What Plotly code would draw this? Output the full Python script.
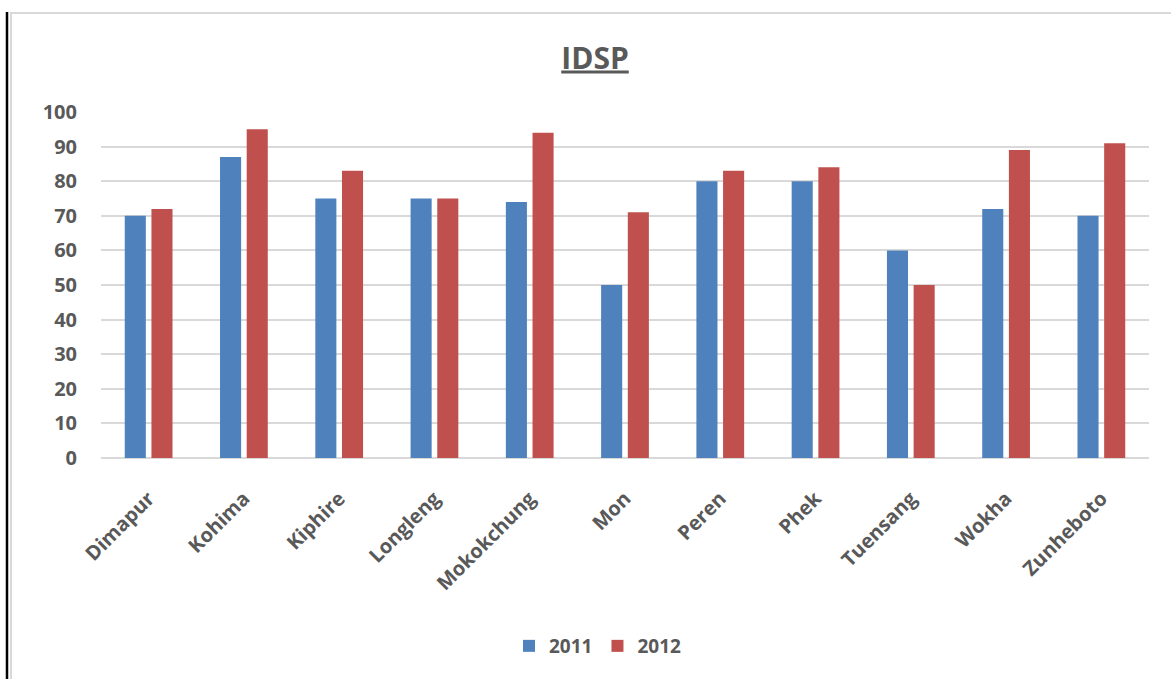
import plotly.graph_objects as go

categories = ["Dimapur", "Kohima", "Kiphire", "Longleng", "Mokokchung", "Mon",
              "Peren", "Phek", "Tuensang", "Wokha", "Zunheboto"]
values_2011 = [70, 87, 75, 75, 74, 50, 80, 80, 60, 72, 70]
values_2012 = [72, 95, 83, 75, 94, 71, 83, 84, 50, 89, 91]
y_ticks = [0, 10, 20, 30, 40, 50, 60, 70, 80, 90, 100]

W, H = 1171, 679
L, R, T, B = 101, 22, 112, 221
pw, ph = W - L - R, H - T - B

def px(x):
    return (x - L) / pw

def py(y):
    return 1 - (y - T) / ph

FONT = "Open Sans"
GRAY = "#595959"

fig = go.Figure()
fig.add_trace(go.Bar(name="2011", x=categories, y=values_2011,
                     marker=dict(color="#4F81BD", line=dict(width=0))))
fig.add_trace(go.Bar(name="2012", x=categories, y=values_2012,
                     marker=dict(color="#C0504D", line=dict(width=0))))

fig.update_layout(
    width=W, height=H,
    margin=dict(l=L, r=R, t=T, b=B, autoexpand=False),
    paper_bgcolor="white", plot_bgcolor="white",
    barmode="group", bargap=0.44, bargroupgap=0.21,
    title=dict(text="<b><u>IDSP</u></b>", xref="container", x=595 / W,
               xanchor="center", yref="container", y=1 - 58 / H,
               yanchor="middle",
               font=dict(family=FONT, size=30, color=GRAY)),
    font=dict(family=FONT, color=GRAY, size=19),
    showlegend=True,
    legend=dict(orientation="h", x=px(509), xanchor="left", y=py(646),
                yanchor="middle", font=dict(family=FONT, size=19, color=GRAY),
                traceorder="normal", itemwidth=30),
    xaxis=dict(showgrid=False, showline=False, ticks="", tickangle=-45,
               tickfont=dict(family=FONT, size=20, color=GRAY, weight="bold"),
               ticklabelstandoff=24),
    yaxis=dict(range=[0, 100], tickvals=y_ticks, showgrid=True,
               gridcolor="#D9D9D9", gridwidth=1.5, zeroline=True,
               zerolinecolor="#D9D9D9", zerolinewidth=1.5, showline=False,
               ticks="", ticklabelstandoff=23,
               tickfont=dict(family=FONT, size=20, color=GRAY, weight="bold")),
    shapes=[
        dict(type="line", xref="paper", yref="paper", x0=px(7), x1=px(7),
             y0=py(12), y1=py(H + 5), line=dict(color="black", width=2.5)),
        dict(type="line", xref="paper", yref="paper", x0=px(11), x1=px(11),
             y0=py(13), y1=py(H + 5), line=dict(color="#D9D9D9", width=2)),
        dict(type="line", xref="paper", yref="paper", x0=px(10), x1=px(W + 5),
             y0=py(13), y1=py(13), line=dict(color="#D9D9D9", width=2)),
    ],
)
fig.update_layout(legend_font_weight="bold")

fig.write_html("out.html")
